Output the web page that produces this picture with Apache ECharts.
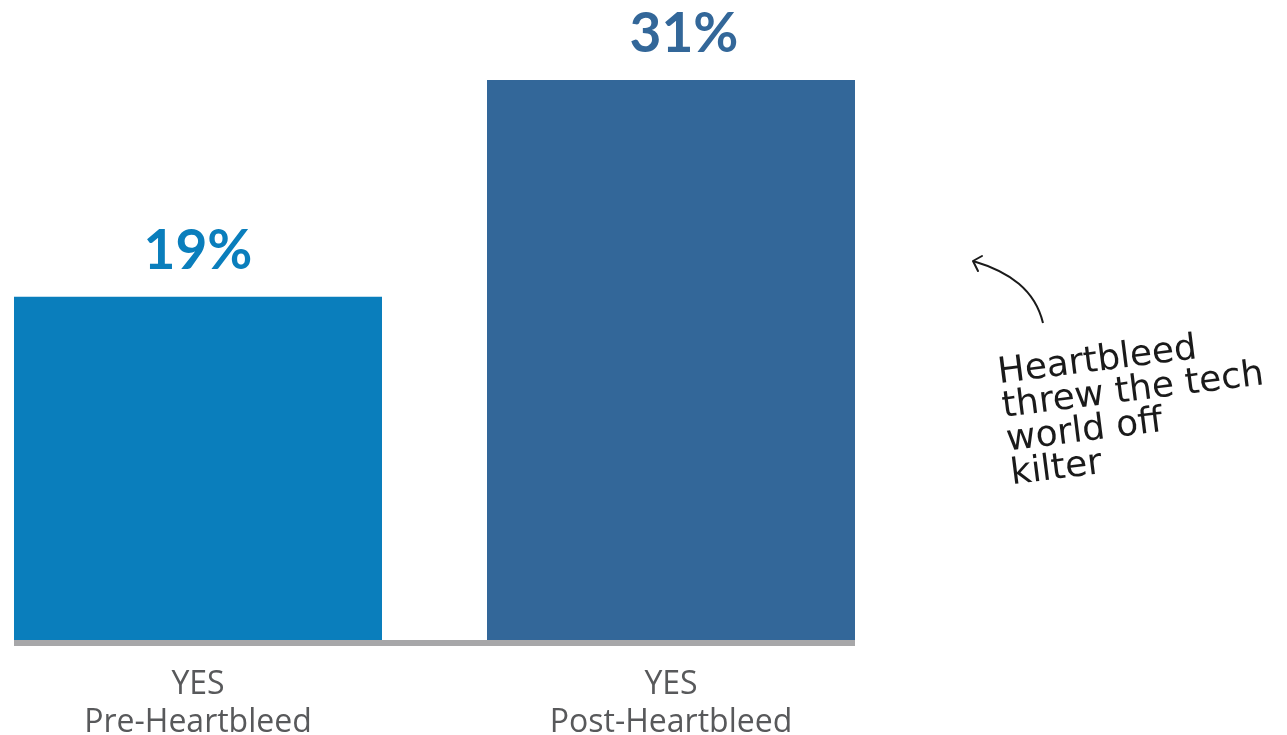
<!DOCTYPE html>
<html>
<head>
<meta charset="utf-8">
<title>Heartbleed</title>
<script src="https://cdn.jsdelivr.net/npm/echarts@6/dist/echarts.min.js"></script>
<style>
  html, body { margin: 0; padding: 0; background: #ffffff; }
  #chart { width: 1287px; height: 735px; }
</style>
</head>
<body>
<div id="chart"></div>
<script>
// Share answering YES, before and after Heartbleed
const categories = ['YES\nPre-Heartbleed', 'YES\nPost-Heartbleed'];
const positions = [0, 1];
const values = [19, 31];

const barColors = ['#0a7ebc', '#336799'];
const valueLabelShift = [[0, 0], [13, 0]];

const chart = echarts.init(document.getElementById('chart'));

const data = values.map((v, i) => ({
  value: [positions[i], v],
  itemStyle: { color: barColors[i] },
  label: { color: barColors[i], offset: valueLabelShift[i] }
}));

chart.setOption({
  animation: false,
  backgroundColor: '#ffffff',
  grid: { left: 14, right: 432, top: 80, bottom: 95, outerBoundsMode: 'none', containLabel: false },
  xAxis: {
    type: 'value',
    min: -0.389,
    max: 1.389,
    offset: 3,
    splitLine: { show: false },
    axisTick: { show: false },
    axisLine: { show: true, onZero: false, lineStyle: { color: '#a7a7a9', width: 6, cap: 'butt' } },
    axisLabel: {
      customValues: positions,
      formatter: (v) => categories[Math.round(v)],
      margin: 23,
      fontFamily: 'Open Sans',
      fontSize: 32,
      lineHeight: 38,
      color: '#58595b',
      showMinLabel: true,
      showMaxLabel: true
    }
  },
  yAxis: {
    type: 'value',
    min: 0,
    max: 31,
    show: false,
    splitLine: { show: false }
  },
  series: [{
    type: 'bar',
    barWidth: 368,
    data: data,
    label: {
      show: true,
      position: 'top',
      distance: 18,
      formatter: (p) => p.value[1] + '%',
      fontFamily: 'Lato',
      fontWeight: 'bold',
      fontSize: 55
    }
  }],
  graphic: [
    {
      type: 'bezierCurve',
      shape: { x1: 1043, y1: 323, cpx1: 1035, cpy1: 290, cpx2: 1010, cpy2: 272, x2: 973, y2: 261 },
      style: { stroke: '#1a1a1a', lineWidth: 2, fill: null }
    },
    {
      type: 'polyline',
      shape: { points: [[982, 256], [973, 261], [978, 271]] },
      style: { stroke: '#1a1a1a', lineWidth: 2, fill: null, lineCap: 'round', lineJoin: 'round' }
    },
    {
      type: 'text',
      x: 996,
      y: 357,
      rotation: 0.125,
      style: {
        text: 'Heartbleed\nthrew the tech\nworld off\nkilter',
        fontFamily: 'DejaVu Sans',
        fontSize: 36,
        lineHeight: 34,
        fill: '#1a1a1a',
        align: 'left',
        verticalAlign: 'top'
      }
    }
  ]
});
</script>
</body>
</html>
